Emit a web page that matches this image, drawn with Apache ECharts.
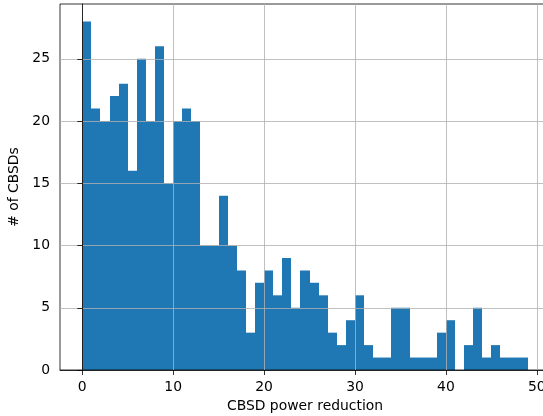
<!DOCTYPE html>
<html>
<head>
<meta charset="utf-8">
<script src="https://cdn.jsdelivr.net/npm/echarts@6/dist/echarts.min.js"></script>
<style>
html,body{margin:0;padding:0;background:#fff;}
#chart{width:543px;height:416px;}
</style>
</head>
<body>
<div id="chart"></div>
<script>
// Histogram bins: left edges (width 1) and counts
var binEdges = [];
for (var i = 0; i <= 49; i++) binEdges.push(i);
var counts = [28,21,20,22,23,16,25,20,26,15,20,21,20,10,10,14,10,8,3,7,8,6,9,5,8,7,6,3,2,4,6,2,1,1,5,5,1,1,1,3,4,0,2,5,1,2,1,1,1];
var xTicks = [0,10,20,30,40,50];
var yTicks = [0,5,10,15,20,25];

var data = counts.map(function (c, i) { return [binEdges[i], binEdges[i + 1], c]; });

var chart = echarts.init(document.getElementById('chart'), null, {renderer: 'canvas'});
var font = 'DejaVu Sans';
chart.setOption({
  animation: false,
  backgroundColor: '#ffffff',
  grid: {left: 60, top: 4, width: 490, height: 366, containLabel: false, outerBoundsMode: 'none',
    show: true, borderColor: '#000', borderWidth: 0.8, backgroundColor: 'transparent'},
  xAxis: {
    type: 'value', min: -2.45, max: 51.45, interval: 10,
    name: 'CBSD power reduction', nameLocation: 'middle', nameGap: 27,
    nameTextStyle: {fontFamily: font, fontSize: 13.9, color: '#000'},
    axisLine: {show: true, onZero: false, lineStyle: {color: '#000', width: 0.8}},
    axisTick: {show: true, length: 5, lineStyle: {color: '#000', width: 0.8},
      customValues: xTicks},
    axisLabel: {fontFamily: font, fontSize: 13.9, color: '#000', margin: 10,
      customValues: xTicks, showMinLabel: true, showMaxLabel: true},
    splitLine: {show: true, lineStyle: {color: '#b0b0b0', width: 0.8}}
  },
  yAxis: {
    type: 'value', min: 0, max: 29.4, interval: 5,
    name: '# of CBSDs', nameLocation: 'middle', nameGap: 31,
    nameTextStyle: {fontFamily: font, fontSize: 13.9, color: '#000'},
    axisLine: {show: true, lineStyle: {color: '#000', width: 0.8}},
    axisTick: {show: true, length: 5, lineStyle: {color: '#000', width: 0.8}, customValues: yTicks},
    axisLabel: {fontFamily: font, fontSize: 13.9, color: '#000', margin: 10, customValues: yTicks},
    splitLine: {show: true, lineStyle: {color: '#b0b0b0', width: 0.8}}
  },
  series: [{
    type: 'custom',
    z: -1,
    data: data,
    encode: {x: [0, 1], y: 2},
    renderItem: function (params, api) {
      var p0 = api.coord([api.value(0), api.value(2)]);
      var p1 = api.coord([api.value(1), 0]);
      var x0 = Math.round(p0[0]), x1 = Math.round(p1[0]);
      return {
        type: 'rect',
        shape: {x: x0, y: p0[1], width: x1 - x0, height: p1[1] - p0[1]},
        style: {fill: '#1f77b4'}
      };
    }
  }]
});
</script>
</body>
</html>
